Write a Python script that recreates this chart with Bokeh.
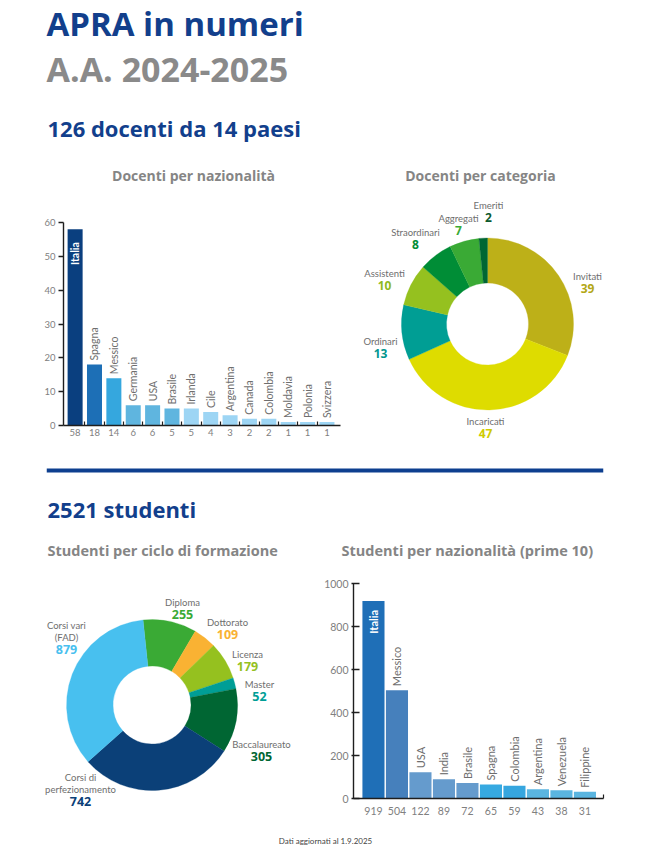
import math
from bokeh.plotting import figure
from bokeh.layouts import column, row
from bokeh.models import Range1d, FixedTicker, ColumnDataSource, Span
from bokeh.core.properties import value
from bokeh.embed import file_html
from bokeh.resources import INLINE

# ---------------- data ----------------
doc_countries = ["Italia", "Spagna", "Messico", "Germania", "USA", "Brasile", "Irlanda",
                 "Cile", "Argentina", "Canada", "Colombia", "Moldavia", "Polonia", "Svizzera"]
doc_counts = [58, 18, 14, 6, 6, 5, 5, 4, 3, 2, 2, 1, 1, 1]
doc_y_ticks = [0, 10, 20, 30, 40, 50, 60]

cat_names = ["Invitati", "Incaricati", "Ordinari", "Assistenti", "Straordinari", "Aggregati", "Emeriti"]
cat_counts = [39, 47, 13, 10, 8, 7, 2]

cycle_names = ["Diploma", "Dottorato", "Licenza", "Master", "Baccalaureato",
               "Corsi di\nperfezionamento", "Corsi vari\n(FAD)"]
cycle_counts = [255, 109, 179, 52, 305, 742, 879]

stu_countries = ["Italia", "Messico", "USA", "India", "Brasile", "Spagna", "Colombia",
                 "Argentina", "Venezuela", "Filippine"]
stu_counts = [919, 504, 122, 89, 72, 65, 59, 43, 38, 31]
stu_y_ticks = [0, 200, 400, 600, 800, 1000]

# ---------------- styles ----------------
BLUE = "#123f8c"
TITLE_GRAY = "#858585"
LABEL_GRAY = "#6e6e6e"
TICK_GRAY = "#808080"
AXIS_BLACK = "#1e1e1e"
HEAD_FONT = "Open Sans"
BODY_FONT = "Lato"

DOC_BAR_COLORS = ["#0a3f7f", "#1d6fb6", "#35a7de", "#5fb5df", "#5fb5df", "#5fb5df",
                  "#9dd5f4", "#9dd5f4", "#9dd5f4", "#9dd5f4", "#9dd5f4", "#9dd5f4", "#9dd5f4", "#9dd5f4"]
STU_BAR_COLORS = ["#1f6fb7", "#4680bc", "#659bcd", "#659bcd", "#659bcd",
                  "#36a9e1", "#36a6df", "#5ab5e0", "#5ab5e0", "#5ab5e0"]
CAT_COLORS = ["#bdb018", "#dedc00", "#009e94", "#95c11f", "#008d36", "#3aaa35", "#006633"]
CAT_TEXT_COLORS = ["#b3a716", "#cfcb00", "#00968f", "#8fb91d", "#008d36", "#3aaa35", "#0b5a2e"]
CYC_COLORS = ["#3aaa35", "#f9b233", "#95c11f", "#009e96", "#006633", "#0b4078", "#48c0ef"]

# label anchors (pixel offsets from the donut centre, screen-down y)
CAT_LABEL_POS = [(100, -41), (-2, 104), (-107, 23.5), (-103, -44.5), (-72, -85), (-29, -99.5), (1, -112.5)]
CYC_LABEL_POS = [(30.5, -96.5), (75.5, -76), (95.5, -44.5), (107.5, -14.5), (109.5, 45.5), (-71.5, 91), (-85.5, -61)]


def canvas(w, h, xr, yr, **kw):
    p = figure(width=w, height=h, x_range=xr, y_range=yr, output_backend="svg",
               toolbar_location=None, outline_line_color=None,
               background_fill_color=None, border_fill_color=None, **kw)
    p.grid.visible = False
    return p


def plain(w, h, xr, yr, **kw):
    return canvas(w, h, xr, yr, x_axis_location=None, y_axis_location=None, min_border=0, **kw)


def txt(p, x, y, s, size, color, bold=True, align="left", font=HEAD_FONT, baseline="alphabetic"):
    p.text(x=[x], y=[y], text=[s], text_font=value(font), text_font_size=size,
           text_color=color, text_font_style="bold" if bold else "normal",
           text_align=align, text_baseline=baseline)


# ---------------- header ----------------
ph = plain(666, 190, Range1d(0, 666), Range1d(190, 0))
txt(ph, 46, 23, "APRA in numeri", "33px", BLUE)
txt(ph, 46, 68, "A.A. 2024-2025", "34px", "#8a8a8a")
txt(ph, 47, 127, "126 docenti da 14 paesi", "22px", BLUE)
txt(ph, 193, 175, "Docenti per nazionalità", "14px", TITLE_GRAY, align="center")
txt(ph, 480, 175, "Docenti per categoria", "14px", TITLE_GRAY, align="center")


# ---------------- bar chart helper ----------------
def bar_chart(w, h, xr, yr, borders, names, counts, colors, yticks, bar_w,
              lab_size, tick_lab_size, tick_in, tick_out, minor, inner_off, x_standoff):
    p = canvas(w, h, xr, yr, min_border_left=borders[0], min_border_right=borders[1],
               min_border_top=borders[2], min_border_bottom=borders[3])
    idx = list(range(len(counts)))
    p.vbar(x=idx, top=counts, width=bar_w, fill_color=colors, line_color=None)
    # labels above bars
    src = ColumnDataSource(dict(x=idx[1:], y=counts[1:], t=names[1:]))
    p.text(x="x", y="y", text="t", source=src, angle=math.pi / 2, text_align="left",
           text_baseline="middle", y_offset=-4, text_font=value(BODY_FONT),
           text_font_size=lab_size, text_color=LABEL_GRAY)
    # label of the tallest bar, inside it
    src0 = ColumnDataSource(dict(x=idx[:1], y=counts[:1], t=names[:1]))
    p.text(x="x", y="y", text="t", source=src0, angle=math.pi / 2, text_align="right",
           text_baseline="middle", y_offset=inner_off, text_font=value(BODY_FONT),
           text_font_size=lab_size, text_color="white", text_font_style="bold")
    yax = p.yaxis[0]
    yax.ticker = FixedTicker(ticks=yticks)
    yax.axis_line_color = AXIS_BLACK
    yax.axis_line_width = 1.4
    yax.major_tick_line_color = AXIS_BLACK
    yax.major_tick_line_width = 1.4
    yax.major_tick_in = tick_in
    yax.major_tick_out = tick_out
    yax.minor_tick_line_color = None
    yax.major_label_text_font = BODY_FONT
    yax.major_label_text_font_size = tick_lab_size
    yax.major_label_text_color = TICK_GRAY
    yax.major_label_standoff = 3
    xax = p.xaxis[0]
    xax.ticker = FixedTicker(ticks=idx, minor_ticks=minor(idx))
    xax.major_label_overrides = {i: str(v) for i, v in zip(idx, counts)}
    xax.axis_line_color = AXIS_BLACK
    xax.axis_line_width = 1.4
    xax.major_tick_in = 0
    xax.major_tick_out = 0
    xax.minor_tick_in = 4
    xax.minor_tick_out = 0
    xax.minor_tick_line_color = AXIS_BLACK
    xax.minor_tick_line_width = 1.2
    xax.major_label_text_font = BODY_FONT
    xax.major_label_text_font_size = tick_lab_size
    xax.major_label_text_color = TICK_GRAY
    xax.major_label_standoff = x_standoff
    return p


p1 = bar_chart(353, 260, Range1d(-0.6, 13.7), Range1d(0, 60), (63, 13, 32, 25),
               doc_countries, doc_counts, DOC_BAR_COLORS, doc_y_ticks, 0.775,
               "10.5px", "9.5px", 0, 5, lambda idx: [i + 0.5 for i in idx[:-1]], 13, 3)

stu_x_end = 9.79
p4 = bar_chart(348, 265, Range1d(-0.85, stu_x_end), Range1d(0, 1000), (35, 63, 18, 32),
               stu_countries, stu_counts, STU_BAR_COLORS, stu_y_ticks, 0.94,
               "11px", "10.5px", 6, 2, lambda idx: [stu_x_end], 9, 8)


# ---------------- donut helper ----------------
def donut(w, h, xr, yr, names, counts, colors, text_colors, r_in, r_out, offset_deg, label_pos,
          name_size, val_size):
    p = plain(w, h, xr, yr)
    total = sum(counts)
    base = math.radians(90 + offset_deg)
    lo, hi = [], []
    cum = 0
    for c in counts:
        hi.append(base - 2 * math.pi * cum / total)
        cum += c
        lo.append(base - 2 * math.pi * cum / total)
    src = ColumnDataSource(dict(start=lo, end=hi, color=colors))
    p.annular_wedge(x=0, y=0, inner_radius=r_in, outer_radius=r_out, start_angle="start",
                    end_angle="end", fill_color="color", line_color="color", line_width=0.3,
                    source=src)
    lsrc = ColumnDataSource(dict(x=[d[0] for d in label_pos], y=[-d[1] for d in label_pos],
                                 name=names, val=[str(c) for c in counts], tc=text_colors))
    p.text(x="x", y="y", text="name", source=lsrc, text_align="center", text_baseline="bottom",
           y_offset=-1, text_font=value(BODY_FONT), text_font_size=name_size,
           text_color=LABEL_GRAY, text_line_height=1.1)
    p.text(x="x", y="y", text="val", source=lsrc, text_align="center", text_baseline="top",
           y_offset=1, text_font=value(HEAD_FONT), text_font_size=val_size,
           text_color="tc", text_font_style="bold")
    return p


p2 = donut(313, 260, Range1d(-134, 179), Range1d(-126.5, 133.5), cat_names, cat_counts,
           CAT_COLORS, CAT_TEXT_COLORS, 41, 86, 0, CAT_LABEL_POS, "9.5px", "12px")

p3 = donut(318, 265, Range1d(-151.5, 166.5), Range1d(-125.5, 139.5), cycle_names, cycle_counts,
           CYC_COLORS, CYC_COLORS, 39, 85.5, 6, CYC_LABEL_POS, "9.5px", "12.5px")

# ---------------- middle band ----------------
pm = canvas(666, 115, Range1d(46, 603), Range1d(565, 450), x_axis_location=None,
            y_axis_location=None, min_border=0, min_border_left=46, min_border_right=63)
pm.add_layout(Span(location=470, dimension="width", line_color="#0d3f8f", line_width=4))
txt(pm, 47, 508, "2521 studenti", "22px", BLUE)
txt(pm, 47, 550, "Studenti per ciclo di formazione", "14.5px", TITLE_GRAY)
txt(pm, 341, 550, "Studenti per nazionalità (prime 10)", "14.5px", TITLE_GRAY)

# ---------------- footer ----------------
pf = plain(666, 24, Range1d(0, 666), Range1d(854, 830))
txt(pf, 325, 840, "Dati aggiornati al 1.9.2025", "8px", "#444444", bold=False,
    align="center", font=BODY_FONT, baseline="middle")

# each figure wrapped on its own so that the layout does not align their frames
layout = column(row(ph),
                row(column(p1), column(p2)),
                row(pm),
                row(column(p3), column(p4)),
                row(pf))
open("out.html", "w").write(file_html(layout, INLINE))
